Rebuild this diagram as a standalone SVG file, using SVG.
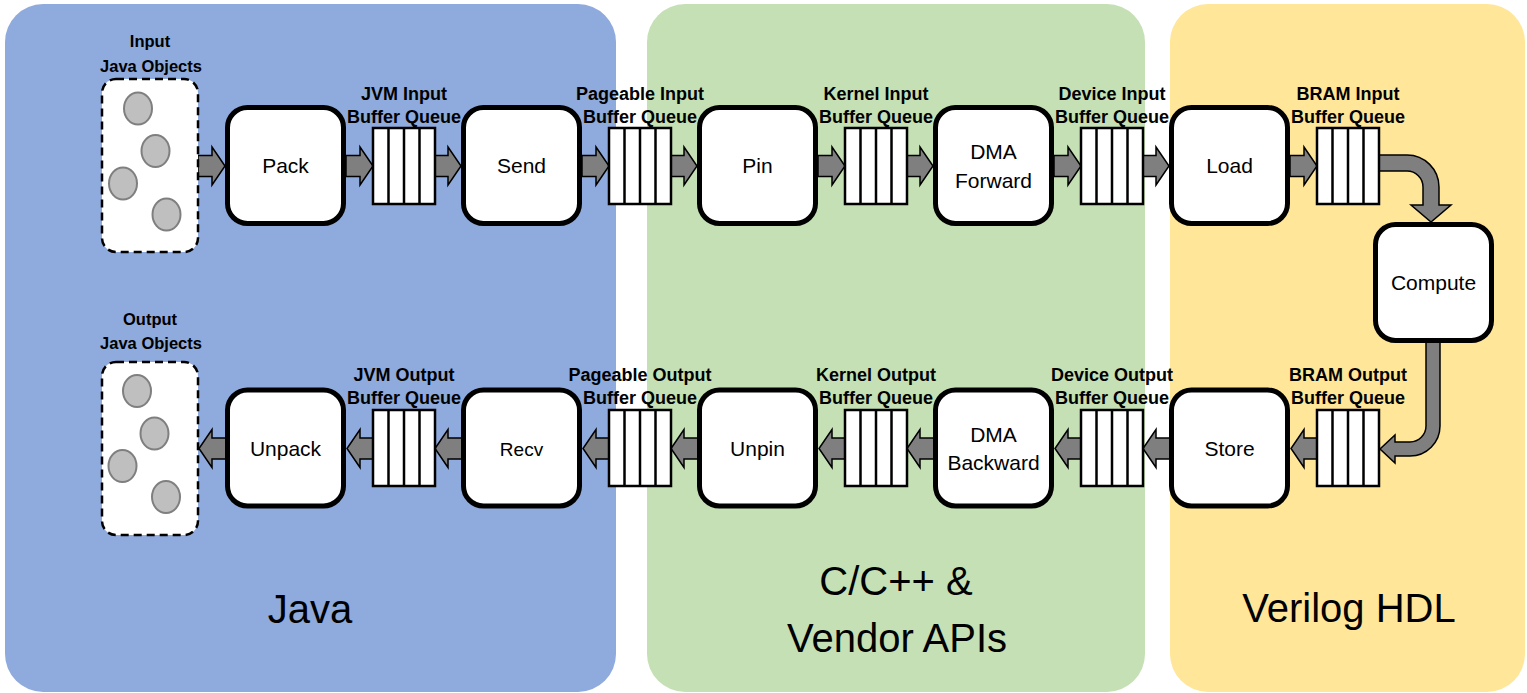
<svg xmlns="http://www.w3.org/2000/svg" xmlns:xlink="http://www.w3.org/1999/xlink" width="1527" height="693" viewBox="0 0 1527 693">
<style>
.node rect{fill:#fff;stroke:#000;stroke-width:5}
.nt{font-family:"Liberation Sans",Arial,sans-serif;font-size:21px;fill:#000;text-anchor:middle}
.lb{font-family:"Liberation Sans",Arial,sans-serif;font-size:18px;font-weight:bold;fill:#000;text-anchor:middle}
.ol{font-family:"Liberation Sans",Arial,sans-serif;font-size:16.5px;font-weight:bold;fill:#000;text-anchor:middle}
.big{font-family:"Liberation Sans",Arial,sans-serif;font-size:40px;fill:#000;text-anchor:middle}
.q rect{fill:#fff;stroke:#000;stroke-width:2.5}
.obj rect{fill:#fff;stroke:#000;stroke-width:2.5;stroke-dasharray:8 5}
.obj ellipse{fill:#bfbfbf;stroke:#7f7f7f;stroke-width:2}
.arr{fill:#7f7f7f;stroke:#000;stroke-width:1.5;stroke-linejoin:miter}
</style>
<defs>
<path id="ar" class="arr" d="M0,-10.5 H14 V-19 L27,0 L14,19 V10.5 H0 Z"/>
<path id="al" class="arr" d="M27,-10.5 H13 V-19 L0,0 L13,19 V10.5 H27 Z"/>
<path id="cells" d="M15.5,0 V76 M31,0 V76 M46.5,0 V76" fill="none" stroke="#000" stroke-width="2.5"/>
</defs>

<g id="panels">
<rect x="5" y="4" width="611" height="688" rx="38" fill="#8faadc"/>
<rect x="647" y="4" width="498" height="688" rx="38" fill="#c5e0b4"/>
<rect x="1170" y="4" width="355" height="688" rx="38" fill="#ffe699"/>
<text class="big" x="310" y="623">Java</text>
<text class="big" x="896" y="595">C/C++ &amp;</text>
<text class="big" x="897" y="652">Vendor APIs</text>
<text class="big" x="1349" y="622">Verilog HDL</text>
</g>

<g id="connectors">
<use xlink:href="#ar" x="198" y="166"/>
<use xlink:href="#ar" x="346" y="166"/>
<use xlink:href="#ar" x="434" y="166"/>
<use xlink:href="#ar" x="582" y="166"/>
<use xlink:href="#ar" x="670" y="166"/>
<use xlink:href="#ar" x="818" y="166"/>
<use xlink:href="#ar" x="906" y="166"/>
<use xlink:href="#ar" x="1054" y="166"/>
<use xlink:href="#ar" x="1142" y="166"/>
<use xlink:href="#ar" x="1290" y="166"/>
<path class="arr" d="M1379,155 L1407,155 A32,32 0 0 1 1439,187 L1439,205 L1451,205 L1431,222 L1411,205 L1423,205 L1423,187 A16,16 0 0 0 1407,171 L1379,171 Z"/>
<path class="arr" d="M1426,342 L1440,342 L1440,426 A30,30 0 0 1 1410,456 L1395,456 L1395,463 L1380,449 L1395,435 L1395,442 L1410,442 A16,16 0 0 0 1426,426 Z"/>
<use xlink:href="#al" x="199" y="448.5"/>
<use xlink:href="#al" x="347" y="448.5"/>
<use xlink:href="#al" x="435" y="448.5"/>
<use xlink:href="#al" x="583" y="448.5"/>
<use xlink:href="#al" x="671" y="448.5"/>
<use xlink:href="#al" x="819" y="448.5"/>
<use xlink:href="#al" x="907" y="448.5"/>
<use xlink:href="#al" x="1055" y="448.5"/>
<use xlink:href="#al" x="1143" y="448.5"/>
<use xlink:href="#al" x="1291" y="448.5"/>
</g>

<g id="input-objects" class="obj">
<text class="ol" x="150" y="47">Input</text>
<text class="ol" x="151" y="71.5">Java Objects</text>
<rect x="102" y="79" width="96" height="173" rx="14"/>
<ellipse cx="138" cy="108.5" rx="14" ry="16"/>
<ellipse cx="155.5" cy="151" rx="14" ry="16"/>
<ellipse cx="123" cy="183.5" rx="14" ry="16"/>
<ellipse cx="166.5" cy="214.5" rx="14" ry="16"/>
</g>
<g id="output-objects" class="obj">
<text class="ol" x="150" y="325">Output</text>
<text class="ol" x="151" y="348.5">Java Objects</text>
<rect x="102" y="362" width="96" height="173" rx="14"/>
<ellipse cx="137" cy="391" rx="14" ry="16"/>
<ellipse cx="154.5" cy="433.5" rx="14" ry="16"/>
<ellipse cx="122.5" cy="466" rx="14" ry="16"/>
<ellipse cx="166" cy="497" rx="14" ry="16"/>
</g>

<g id="pack" class="node"><rect x="227.5" y="107.5" width="116" height="116" rx="20"/><text class="nt" x="285.5" y="173">Pack</text></g>
<g id="send" class="node"><rect x="463.5" y="107.5" width="116" height="116" rx="20"/><text class="nt" x="521.5" y="173">Send</text></g>
<g id="pin" class="node"><rect x="699.5" y="107.5" width="116" height="116" rx="20"/><text class="nt" x="757.5" y="173">Pin</text></g>
<g id="dma-forward" class="node"><rect x="935.5" y="107.5" width="116" height="116" rx="20"/><text class="nt" x="993.5" y="159">DMA</text><text class="nt" x="993.5" y="188">Forward</text></g>
<g id="load" class="node"><rect x="1171.5" y="107.5" width="116" height="116" rx="20"/><text class="nt" x="1229.5" y="173">Load</text></g>
<g id="compute" class="node"><rect x="1375.5" y="224.5" width="116" height="116" rx="20"/><text class="nt" x="1433.5" y="290">Compute</text></g>
<g id="unpack" class="node"><rect x="227.5" y="390" width="116" height="116" rx="20"/><text class="nt" x="285.5" y="455.5">Unpack</text></g>
<g id="recv" class="node"><rect x="463.5" y="390" width="116" height="116" rx="20"/><text class="nt" x="521.5" y="455.5" style="font-size:19px">Recv</text></g>
<g id="unpin" class="node"><rect x="699.5" y="390" width="116" height="116" rx="20"/><text class="nt" x="757.5" y="455.5">Unpin</text></g>
<g id="dma-backward" class="node"><rect x="935.5" y="390" width="116" height="116" rx="20"/><text class="nt" x="993.5" y="441.5">DMA</text><text class="nt" x="993.5" y="470">Backward</text></g>
<g id="store" class="node"><rect x="1171.5" y="390" width="116" height="116" rx="20"/><text class="nt" x="1229.5" y="455.5">Store</text></g>

<g id="jvm-input-queue" class="q"><rect x="373" y="128" width="62" height="76"/><use xlink:href="#cells" x="373" y="128"/><text class="lb" x="404" y="100">JVM Input</text><text class="lb" x="404" y="123">Buffer Queue</text></g>
<g id="pageable-input-queue" class="q"><rect x="609" y="128" width="62" height="76"/><use xlink:href="#cells" x="609" y="128"/><text class="lb" x="640" y="100">Pageable Input</text><text class="lb" x="640" y="123">Buffer Queue</text></g>
<g id="kernel-input-queue" class="q"><rect x="845" y="128" width="62" height="76"/><use xlink:href="#cells" x="845" y="128"/><text class="lb" x="876" y="100">Kernel Input</text><text class="lb" x="876" y="123">Buffer Queue</text></g>
<g id="device-input-queue" class="q"><rect x="1081" y="128" width="62" height="76"/><use xlink:href="#cells" x="1081" y="128"/><text class="lb" x="1112" y="100">Device Input</text><text class="lb" x="1112" y="123">Buffer Queue</text></g>
<g id="bram-input-queue" class="q"><rect x="1317" y="128" width="62" height="76"/><use xlink:href="#cells" x="1317" y="128"/><text class="lb" x="1348" y="100">BRAM Input</text><text class="lb" x="1348" y="123">Buffer Queue</text></g>

<g id="jvm-output-queue" class="q"><rect x="373" y="410" width="62" height="76"/><use xlink:href="#cells" x="373" y="410"/><text class="lb" x="404" y="381">JVM Output</text><text class="lb" x="404" y="404">Buffer Queue</text></g>
<g id="pageable-output-queue" class="q"><rect x="609" y="410" width="62" height="76"/><use xlink:href="#cells" x="609" y="410"/><text class="lb" x="640" y="381">Pageable Output</text><text class="lb" x="640" y="404">Buffer Queue</text></g>
<g id="kernel-output-queue" class="q"><rect x="845" y="410" width="62" height="76"/><use xlink:href="#cells" x="845" y="410"/><text class="lb" x="876" y="381">Kernel Output</text><text class="lb" x="876" y="404">Buffer Queue</text></g>
<g id="device-output-queue" class="q"><rect x="1081" y="410" width="62" height="76"/><use xlink:href="#cells" x="1081" y="410"/><text class="lb" x="1112" y="381">Device Output</text><text class="lb" x="1112" y="404">Buffer Queue</text></g>
<g id="bram-output-queue" class="q"><rect x="1317" y="410" width="62" height="76"/><use xlink:href="#cells" x="1317" y="410"/><text class="lb" x="1348" y="381">BRAM Output</text><text class="lb" x="1348" y="404">Buffer Queue</text></g>
</svg>
